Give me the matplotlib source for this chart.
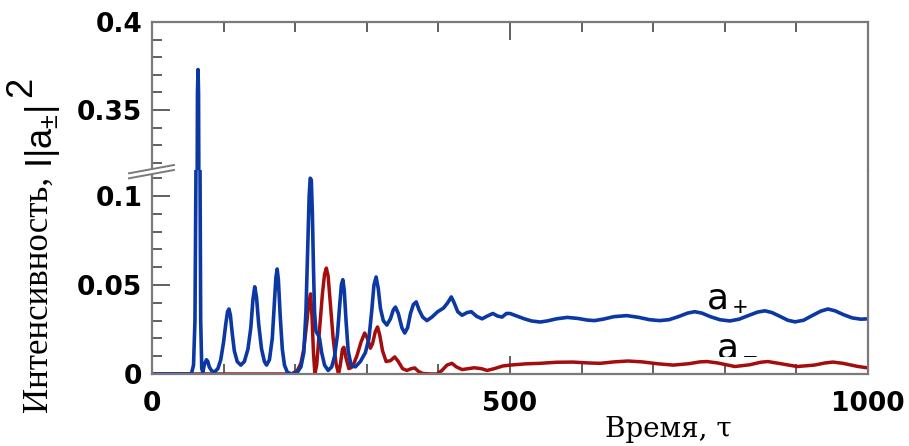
import matplotlib
matplotlib.use("Agg")
import matplotlib.pyplot as plt
from matplotlib.ticker import MultipleLocator, FixedLocator
from matplotlib.lines import Line2D
from matplotlib.patches import Polygon

# blue curve |a+|^2 (time, intensity)
t_plus = [0, 55, 58, 60, 61.5, 62.5, 63.5, 64.3, 65, 66, 67, 68, 69.5, 71, 73,
          76, 78, 80, 83, 87, 92, 96, 100, 103, 105.5, 107.5, 109.5, 112, 115,
          119, 124, 129, 134, 138, 141, 143.5, 146, 149, 153, 157, 160, 164,
          168, 171, 173, 174.8, 176.5, 179, 182, 185, 189, 195, 203, 208, 212,
          215, 217.5, 219.5, 221, 222.5, 224, 225.5, 227, 229, 232, 234, 237,
          241, 246, 251, 255, 259, 262, 264.5, 266.5, 268.5, 271, 274, 278, 284,
          291, 298, 303, 307, 310, 313, 316, 319, 323, 328, 333, 337, 340, 344,
          349, 353, 357, 361, 365, 369, 373, 378, 384, 391, 399, 407, 413, 418,
          422, 427, 433, 440, 446, 453, 461, 468, 476, 483, 489, 495, 500, 510,
          520, 530, 542, 552, 565, 580, 595, 608, 618, 630, 645, 663, 680, 695,
          709, 722, 735, 748, 758, 768, 780, 793, 807, 820, 834, 846, 856, 866,
          878, 888, 898, 910, 922, 934, 944, 954, 966, 978, 990, 1000]
i_plus = [0, 0, 0.005, 0.03, 0.12, 0.25, 0.36, 0.373, 0.36, 0.25, 0.12, 0.03,
          0.003, 0.001, 0.005, 0.008, 0.007, 0.004, 0.002, 0.001, 0.003, 0.008,
          0.018, 0.028, 0.035, 0.0365, 0.033, 0.023, 0.013, 0.007, 0.005, 0.007,
          0.014, 0.026, 0.042, 0.049, 0.043, 0.028, 0.014, 0.007, 0.005, 0.008,
          0.02, 0.04, 0.054, 0.059, 0.053, 0.033, 0.014, 0.005, 0.001, 0.0,
          0.001, 0.004, 0.012, 0.035, 0.07, 0.1, 0.11, 0.109, 0.09, 0.06, 0.035,
          0.024, 0.022, 0.02, 0.012, 0.005, 0.002, 0.004, 0.01, 0.022, 0.038,
          0.05, 0.053, 0.047, 0.03, 0.013, 0.005, 0.004, 0.007, 0.012, 0.02,
          0.036, 0.05, 0.0545, 0.048, 0.037, 0.03, 0.0275, 0.031, 0.036, 0.0376,
          0.034, 0.026, 0.023, 0.026, 0.034, 0.039, 0.0405, 0.036, 0.032, 0.030,
          0.032, 0.035, 0.037, 0.040, 0.0433, 0.040, 0.035, 0.033, 0.0345,
          0.035, 0.0325, 0.031, 0.0325, 0.034, 0.0325, 0.032, 0.034, 0.034,
          0.0325, 0.031, 0.0298, 0.0292, 0.0298, 0.031, 0.0318, 0.0312, 0.0303,
          0.030, 0.0308, 0.0322, 0.0328, 0.0318, 0.0305, 0.0300, 0.0305, 0.0322,
          0.0342, 0.0350, 0.0342, 0.0322, 0.0305, 0.0298, 0.0308, 0.0330,
          0.0348, 0.0355, 0.0345, 0.0322, 0.0302, 0.0293, 0.0302, 0.0328,
          0.0353, 0.0365, 0.0355, 0.0333, 0.0315, 0.0308, 0.031]

# red curve |a-|^2
t_minus = [0, 195, 203, 208, 212, 216, 219, 221.5, 223.5, 225.5, 227.5, 230,
           234, 238, 241, 243.5, 246, 249, 253, 257, 260.5, 263, 266, 268, 271,
           275, 280, 286, 292, 297, 301, 305, 308, 312, 315, 318, 322, 327, 333,
           339, 344, 350, 356, 362, 367, 372, 378, 390, 398, 405, 412, 419, 425,
           433, 442, 450, 460, 468, 478, 490, 500, 522, 542, 565, 588, 610, 626,
           645, 665, 685, 705, 728, 750, 765, 775, 790, 814, 835, 850, 860, 875,
           901, 925, 940, 951, 965, 985, 1000]
i_minus = [0, 0, 0.002, 0.006, 0.014, 0.028, 0.04, 0.045, 0.032, 0.012, 0.0,
           0.005, 0.025, 0.045, 0.056, 0.0595, 0.055, 0.04, 0.02, 0.006, 0.0,
           0.005, 0.014, 0.015, 0.009, 0.003, 0.004, 0.01, 0.018, 0.023, 0.02,
           0.0145, 0.017, 0.024, 0.0264, 0.022, 0.013, 0.007, 0.0075, 0.0096,
           0.007, 0.003, 0.002, 0.003, 0.0034, 0.0015, 0.0003, 0.0, 0.0, 0.002,
           0.005, 0.006, 0.004, 0.0025, 0.003, 0.0035, 0.003, 0.002, 0.003,
           0.0045, 0.005, 0.0057, 0.006, 0.0066, 0.0067, 0.0062, 0.006, 0.0068,
           0.0073, 0.0068, 0.0058, 0.005, 0.0058, 0.0068, 0.007, 0.0062, 0.0042,
           0.0052, 0.0066, 0.007, 0.006, 0.0042, 0.005, 0.0062, 0.0067, 0.006,
           0.0043, 0.0034]

blue = "#0b38a2"
red = "#a30d0d"
frame = "#7a7a7a"
tickc = "#444444"

plt.rcParams["mathtext.fontset"] = "custom"
plt.rcParams["mathtext.rm"] = "Liberation Sans"
plt.rcParams["mathtext.it"] = "Liberation Sans"

W, H = 909, 446
fig = plt.figure(figsize=(W / 100, H / 100), dpi=100)

x0, x1 = 152, 868
y_top, y_brk, y_bot = 22, 170, 374
ax_lo = fig.add_axes([x0 / W, (H - y_bot) / H, (x1 - x0) / W, (y_bot - y_brk) / H])
ax_hi = fig.add_axes([x0 / W, (H - y_brk) / H, (x1 - x0) / W, (y_brk - y_top) / H])

for ax in (ax_lo, ax_hi):
    ax.plot(t_minus, i_minus, color=red, lw=2.5, solid_joinstyle="round")
    ax.plot(t_plus, i_plus, color=blue, lw=2.6, solid_joinstyle="round")
    ax.set_xlim(0, 1000)
    for s in ax.spines.values():
        s.set_color(frame)
        s.set_linewidth(1.6)
    ax.xaxis.set_major_locator(FixedLocator([0, 500, 1000]))
    ax.xaxis.set_minor_locator(MultipleLocator(100))
    ax.yaxis.set_minor_locator(MultipleLocator(0.01))
    ax.yaxis.set_ticks_position("left")

ax_lo.set_ylim(0, 0.05 * (y_bot - y_brk) / 89)
ax_hi.set_ylim(0.35 - 0.05 * 60 / 88, 0.4)
ax_lo.spines["top"].set_visible(False)
ax_hi.spines["bottom"].set_visible(False)

ax_lo.xaxis.set_ticks_position("bottom")
ax_hi.xaxis.set_ticks_position("top")
ax_hi.tick_params(axis="x", which="both", labeltop=False, labelbottom=False)

for ax in (ax_lo, ax_hi):
    ax.tick_params(which="both", direction="in", color=tickc, width=1.2)
    ax.tick_params(which="major", length=13)
    ax.tick_params(which="minor", length=7)
    ax.tick_params(axis="y", which="major", labelsize=19, pad=7)
ax_lo.tick_params(axis="x", which="major", labelsize=19, pad=12)

ax_lo.set_yticks([0, 0.05, 0.1])
ax_lo.set_yticklabels(["0", "0.05", "0.1"])
ax_hi.set_yticks([0.35, 0.4])
ax_hi.set_yticklabels(["0.35", "0.4"])
ax_lo.set_xticklabels(["0", "500", "1000"])
for ax in (ax_lo, ax_hi):
    for lab in ax.get_xticklabels() + ax.get_yticklabels():
        lab.set_fontweight("bold")
        lab.set_family("DejaVu Sans")


def fy(py):
    return (H - py) / H


# break marks on the left spine
gap = Polygon([(129 / W, fy(173.3)), (174 / W, fy(165)), (174 / W, fy(170.7)),
               (129 / W, fy(178.3))], closed=True, transform=fig.transFigure,
              facecolor="white", edgecolor="none", zorder=5)
fig.add_artist(gap)
for dy in (0, 5):
    fig.add_artist(Line2D([129 / W, 174 / W], [fy(173.3 + dy), fy(165 + dy)],
                          transform=fig.transFigure, color=frame, lw=1.4,
                          zorder=6))

# axis labels
fig.text(38 / W, fy(412), "Интенсивность,", rotation=90, ha="center",
         va="bottom", family="Liberation Serif", fontsize=25)
fig.text(43 / W, fy(168), r"I|a$_{\pm}$|", rotation=90, ha="center",
         va="bottom", family="Liberation Sans", fontsize=26)
fig.text(22 / W, fy(97), "2", rotation=90, ha="center", va="bottom",
         family="Liberation Sans", fontsize=26)
fig.text(668 / W, fy(437), "Время, τ", ha="center", va="baseline",
         family="DejaVu Serif", fontsize=20)

fig.text(706 / W, fy(307), r"a$_+$", ha="left", va="baseline",
         family="DejaVu Sans", fontsize=26)
fig.text(716 / W, fy(353), r"a$_-$", ha="left", va="baseline",
         family="DejaVu Sans", fontsize=26)

plt.savefig("out.png", dpi=100)
